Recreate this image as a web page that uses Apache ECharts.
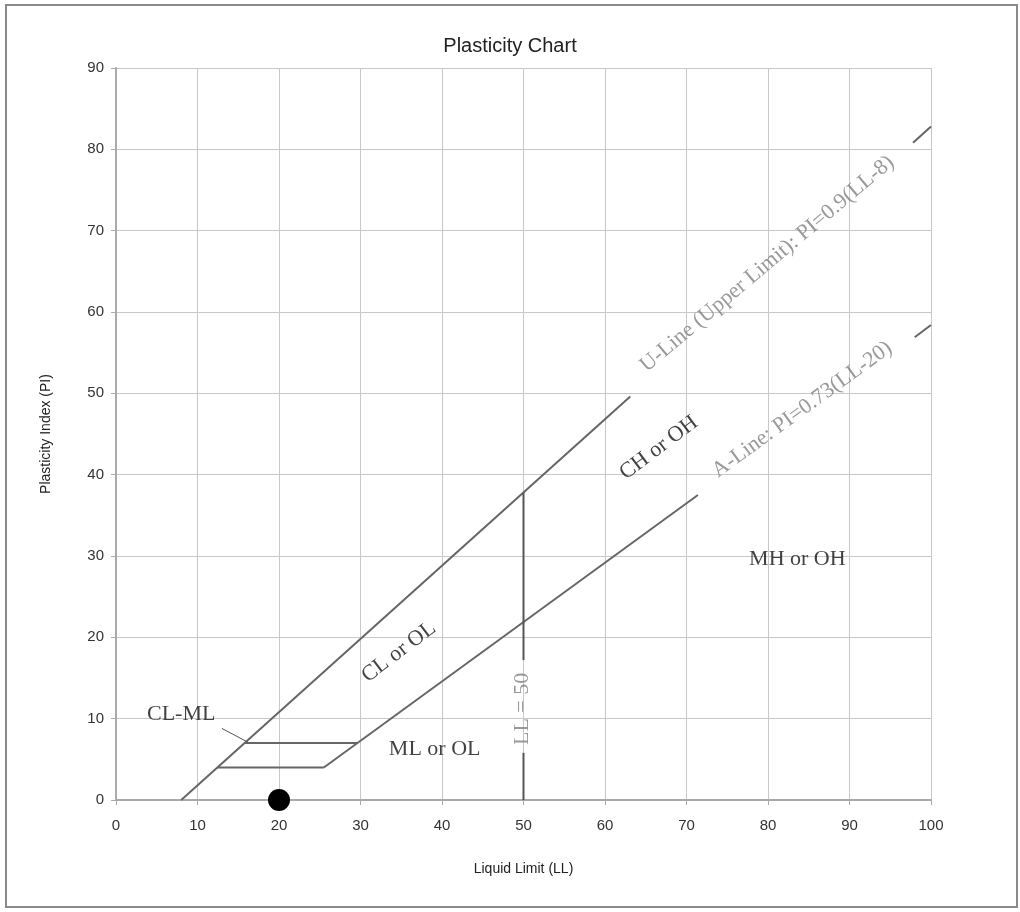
<!DOCTYPE html>
<html>
<head>
<meta charset="utf-8">
<script src="https://cdn.jsdelivr.net/npm/echarts@6/dist/echarts.min.js"></script>
<style>
html,body{margin:0;padding:0;background:#fff;}
#chart{width:1020px;height:912px;}
</style>
</head>
<body>
<div id="chart"></div>
<script>
// ---- data ----
const xTicks = [0,10,20,30,40,50,60,70,80,90,100];
const yTicks = [0,10,20,30,40,50,60,70,80,90];
const uLineMain = [[8,0],[63.1,49.6]];
const uLineTail = [[97.8,80.8],[100,82.8]];
const aLineMain = [[25.5,4],[71.4,37.5]];
const aLineTail = [[98,56.9],[100,58.4]];
const pi7Line = [[15.8,7],[29.6,7]];
const pi4Line = [[12.4,4],[25.5,4]];
const ll50Lower = [[50,0],[50,5.8]];
const ll50Upper = [[50,17.2],[50,37.8]];
const clmlLeader = [[13,8.8],[16.2,7.1]];
const samplePoints = [[20,0]];
const zoneNames = ['CL-ML','ML or OL','MH or OH','CL or OL','CH or OH'];
const zonePos = [[8.0,10.6],[39.1,6.2],[83.6,29.6],[34.7,18.2],[66.6,43.3]];
const lineNames = ['U-Line (Upper Limit): PI=0.9(LL-8)','A-Line: PI=0.73(LL-20)','LL = 50'];
const lineNamePos = [[79.9,65.9],[84.2,48.0],[49.9,11.2]];

// ---- styling ----
const zoneRot = [0,0,0,37,37];
const lineNameRot = [40,36,90];
const serif = 'Liberation Serif';
const sans = 'Liberation Sans';

function seg(data, color, width){
  return {type:'line', data:data, symbol:'none', silent:true, animation:false,
    lineStyle:{color:color, width:width}, z:3};
}

const chart = echarts.init(document.getElementById('chart'));
chart.setOption({
  backgroundColor:'#fff',
  animation:false,
  title:{text:'Plasticity Chart', left:'center', top:31,
    textStyle:{fontFamily:sans, fontSize:20, fontWeight:'normal', color:'#222'}},
  grid:{left:116, right:89, top:68, bottom:112, containLabel:false},
  xAxis:{type:'value', min:0, max:100, interval:10,
    name:'Liquid Limit (LL)', nameLocation:'middle', nameGap:62,
    nameTextStyle:{fontFamily:sans, fontSize:14, color:'#222'},
    axisLine:{show:true, lineStyle:{color:'#aaa', width:2}},
    axisTick:{show:true, length:5, lineStyle:{color:'#aaa'}},
    axisLabel:{fontFamily:sans, fontSize:15, color:'#333', margin:18,
      formatter:function(v){return xTicks.indexOf(v)>=0? String(v):'';}},
    splitLine:{show:true, lineStyle:{color:'#c8c8c8', width:1}}},
  yAxis:{type:'value', min:0, max:90, interval:10,
    name:'Plasticity Index (PI)', nameLocation:'middle', nameGap:63,
    nameTextStyle:{fontFamily:sans, fontSize:14, color:'#222'},
    axisLine:{show:true, lineStyle:{color:'#aaa', width:2}},
    axisTick:{show:true, length:5, lineStyle:{color:'#aaa'}},
    axisLabel:{fontFamily:sans, fontSize:15, color:'#333', margin:12,
      formatter:function(v){return yTicks.indexOf(v)>=0? String(v):'';}},
    splitLine:{show:true, lineStyle:{color:'#c8c8c8', width:1}}},
  graphic:[{type:'rect', shape:{x:6, y:5, width:1011, height:902},
    style:{fill:'none', stroke:'#8a8a8a', lineWidth:2}, silent:true}],
  series:[
    seg(uLineMain,'#666',2),
    seg(uLineTail,'#666',2),
    seg(aLineMain,'#666',2),
    seg(aLineTail,'#666',2),
    seg(pi7Line,'#666',2),
    seg(pi4Line,'#666',2),
    seg(ll50Lower,'#555',2),
    seg(ll50Upper,'#555',2),
    seg(clmlLeader,'#555',1),
    {type:'scatter', data:samplePoints, symbol:'circle', symbolSize:22,
      itemStyle:{color:'#000', opacity:1}, z:5, silent:true},
    {type:'scatter', symbolSize:1, itemStyle:{color:'rgba(0,0,0,0)'}, silent:true, z:4,
      data: zoneNames.map(function(n,i){return {value:zonePos[i], name:n,
        label:{show:true, position:'inside', formatter:n, rotate:zoneRot[i],
          fontFamily:serif, fontSize:22, color:'#111'}};})},
    {type:'scatter', symbolSize:1, itemStyle:{color:'rgba(0,0,0,0)'}, silent:true, z:4,
      data: lineNames.map(function(n,i){return {value:lineNamePos[i], name:n,
        label:{show:true, position:'inside', formatter:n, rotate:lineNameRot[i],
          fontFamily:serif, fontSize:22, color:'#808080'}};})}
  ]
});
</script>
</body>
</html>
